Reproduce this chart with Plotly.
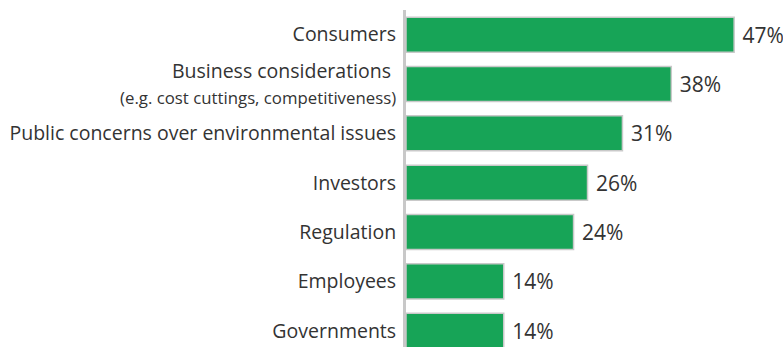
import plotly.graph_objects as go

categories = [
    "Consumers",
    "Business considerations&nbsp;<br><span style='font-size:16.8px'>(e.g. cost cuttings, competitiveness)</span>",
    "Public concerns over environmental issues",
    "Investors",
    "Regulation",
    "Employees",
    "Governments",
]
values = [47, 38, 31, 26, 24, 14, 14]

positions = list(range(len(categories)))

fig = go.Figure(
    go.Bar(
        x=values,
        y=positions,
        orientation="h",
        width=0.71,
        marker=dict(color="#17a457", line=dict(color="#c9c9c9", width=1.5)),
        text=[f" {v}%" for v in values],
        textposition="outside",
        textfont=dict(size=21, color="#333333", family="Open Sans"),
        cliponaxis=False,
    )
)

fig.update_layout(
    width=783,
    height=347,
    margin=dict(l=406, r=0, t=10, b=0),
    paper_bgcolor="white",
    plot_bgcolor="white",
    showlegend=False,
    font=dict(family="Open Sans", color="#333333"),
    xaxis=dict(range=[0, 54], visible=False, showgrid=False, zeroline=False),
    yaxis=dict(
        range=[6.33, -0.5],
        tickmode="array",
        tickvals=positions,
        ticktext=categories,
        tickfont=dict(size=19.5, color="#333333"),
        showline=True,
        linecolor="#c8c8c8",
        linewidth=3,
        showgrid=False,
        zeroline=False,
        ticks="outside",
        ticklen=3,
        tickcolor="rgba(0,0,0,0)",
    ),
)

fig.write_html("out.html")
